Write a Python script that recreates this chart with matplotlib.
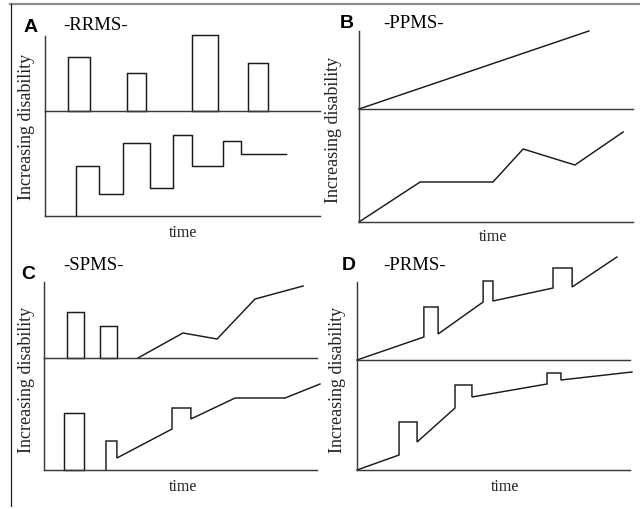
import matplotlib.pyplot as plt
from matplotlib.lines import Line2D

# ---- data (time 0-100 along each axis, disability in arbitrary units) ----
# A  -RRMS-
a_bar_left = [8.5, 29.9, 53.5, 73.9]
a_bar_width = [8.0, 6.9, 9.5, 7.2]
a_bar_height = [54, 38, 76, 48]
a_step_x = [11.4, 11.4, 19.8, 28.5, 38.3, 46.6, 53.5, 64.8, 71.3, 87.7]
a_step_y = [0, 50, 22, 73, 28, 81, 50, 75, 62, 62]

# B  -PPMS-
b_top_x = [0, 83.9]
b_top_y = [0, 78]
b_bot_x = [0, 22.3, 48.9, 59.9, 78.8, 96.4]
b_bot_y = [0, 40, 40, 73, 57, 90]

# C  -SPMS-
c_bar_left = [8.4, 20.5]
c_bar_width = [6.3, 6.2]
c_bar_height = [46, 32]
c_top_x = [34.4, 50.9, 63.4, 77.3, 94.9]
c_top_y = [0, 25, 19, 59, 72]
c_bot_bar_left = [7.3]
c_bot_bar_width = [7.4]
c_bot_bar_height = [57]
c_bot_x = [22.7, 22.7, 26.7, 26.7, 46.9, 46.9, 53.8, 53.8, 70.0, 88.3, 101.1]
c_bot_y = [0, 29, 29, 12, 41, 62, 62, 51, 72, 72, 86]

# D  -PRMS-
d_top_x = [0, 24.5, 24.5, 29.7, 29.7, 46.2, 46.2, 49.8, 49.8, 71.8, 71.8, 78.8, 78.8, 95.2]
d_top_y = [0, 23, 53, 53, 26, 58, 79, 79, 59, 72, 92, 92, 73, 103]
d_bot_x = [0, 15.4, 15.4, 22.0, 22.0, 35.9, 35.9, 42.1, 42.1, 69.6, 69.6, 74.7, 74.7, 100.7]
d_bot_y = [0, 15, 48, 48, 28, 62, 85, 85, 73, 86, 97, 97, 90, 98]

W, H = 640, 510
fig = plt.figure(figsize=(W / 100, H / 100), dpi=100)

SERIF = "Liberation Serif"
SANS = "Liberation Sans"
AX_COL = "#3a3a3a"
LN_COL = "#1a1a1a"
LW = 1.05


def panel(left, right, top, mid, bottom):
    # upper and lower halves share the middle line
    w = (right - left) / W
    ax_t = fig.add_axes([left / W, 1 - mid / H, w, (mid - top) / H])
    ax_b = fig.add_axes([left / W, 1 - bottom / H, w, (bottom - mid) / H])
    for ax, h in ((ax_t, mid - top), (ax_b, bottom - mid)):
        ax.set_xlim(0, 100)
        ax.set_ylim(0, h)
        ax.patch.set_alpha(0)
        for s in ("top", "right"):
            ax.spines[s].set_visible(False)
        for s in ("left", "bottom"):
            ax.spines[s].set_color(AX_COL)
            ax.spines[s].set_linewidth(LW)
        ax.set_xticks([])
        ax.set_yticks([])
    return ax_t, ax_b


def bars(ax, left, width, height):
    ax.bar(left, height, width=width, align="edge", bottom=0, fill=False,
           edgecolor=LN_COL, linewidth=LW, clip_on=False)


def line(ax, x, y):
    ax.plot(x, y, color=LN_COL, lw=LW, clip_on=False, solid_joinstyle="miter")


def labels(letter, title, lx, ly, tx, ty, ylx, yly, tmx, tmy):
    fig.text(lx / W, 1 - ly / H, letter, fontsize=14, fontweight="bold",
             family=SANS, ha="left", va="center")
    fig.text(tx / W, 1 - ty / H, title, fontsize=13.5, family=SERIF,
             ha="left", va="center")
    fig.text(ylx / W, 1 - yly / H, "Increasing disability", fontsize=13,
             family=SERIF, rotation=90, ha="center", va="center", color="#222222")
    fig.text(tmx / W, 1 - tmy / H, "time", fontsize=11.5, family=SERIF,
             ha="center", va="center", color="#222222")


# A
at, ab = panel(44.5, 320, 37, 112, 217)
bars(at, a_bar_left, a_bar_width, a_bar_height)
ab.step(a_step_x, a_step_y, where="post", color=LN_COL, lw=LW, clip_on=False)
labels("A", "-RRMS-", 24, 27, 63, 25, 27, 127, 183, 233)

# B
bt, bb = panel(359, 633, 32, 110, 223)
line(bt, b_top_x, b_top_y)
line(bb, b_bot_x, b_bot_y)
labels("B", "-PPMS-", 340, 23, 383, 23, 334, 130, 493, 237)

# C
ct, cb = panel(44, 317, 283, 359, 471)
bars(ct, c_bar_left, c_bar_width, c_bar_height)
line(ct, c_top_x, c_top_y)
bars(cb, c_bot_bar_left, c_bot_bar_width, c_bot_bar_height)
line(cb, c_bot_x, c_bot_y)
labels("C", "-SPMS-", 21, 275, 63, 265, 27, 380, 183, 487)

# D
dt, db = panel(357, 630, 283, 361, 471)
line(dt, d_top_x, d_top_y)
line(db, d_bot_x, d_bot_y)
labels("D", "-PRMS-", 342, 265, 383, 265, 338, 380, 505, 487)

# frame lines of the scanned figure
fig.add_artist(Line2D([10 / W, 1], [1 - 5 / H, 1 - 5 / H], color="#8c8c8c", lw=1.6))
fig.add_artist(Line2D([11 / W, 11 / W], [1 - 5 / H, 1 - 507 / H], color="#222222", lw=0.9))

fig.savefig("out.png", dpi=100)
